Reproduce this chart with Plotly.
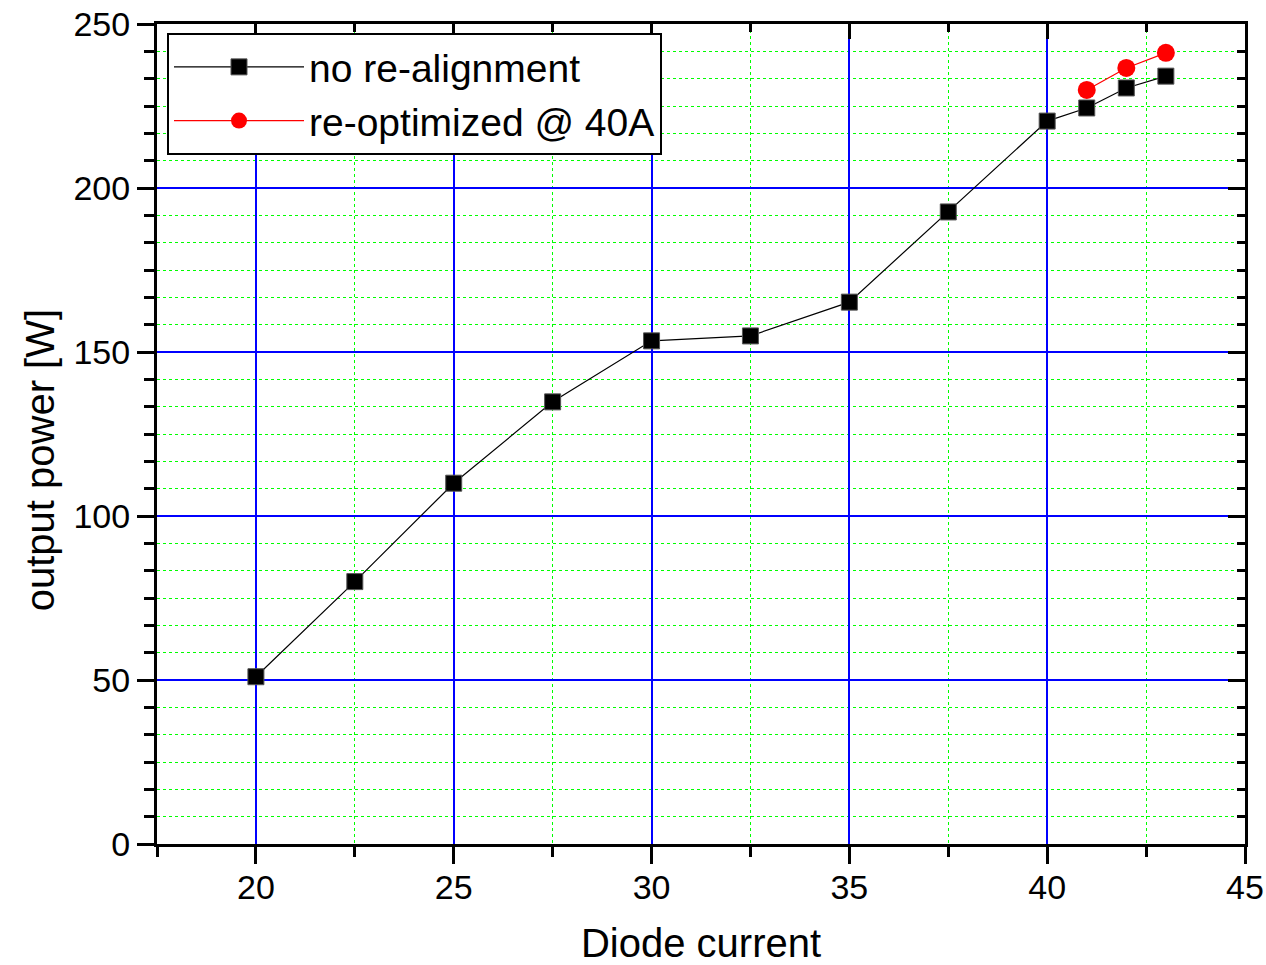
import plotly.graph_objects as go

current_a = [20, 22.5, 25, 27.5, 30, 32.5, 35, 37.5, 40, 41, 42, 43]
power_a = [51, 80, 110, 134.8, 153.4, 154.9, 165.2, 192.7, 220.4, 224.4, 230.5, 234.1]
current_b = [41, 42, 43]
power_b = [229.9, 236.6, 241.2]
name_a = "no re-alignment"
name_b = "re-optimized @ 40A"
x_title = "Diode current"
y_title = "output power [W]"

FONT = "Liberation Sans"

fig = go.Figure()
fig.add_trace(go.Scatter(x=current_a, y=power_a, mode="lines+markers", name=name_a,
                         line=dict(color="black", width=1.2),
                         marker=dict(symbol="square", size=16, color="black",
                                     line=dict(color="#555555", width=1))))
fig.add_trace(go.Scatter(x=current_b, y=power_b, mode="lines+markers", name=name_b,
                         line=dict(color="red", width=1.2),
                         marker=dict(symbol="circle", size=18, color="red",
                                     line=dict(color="red", width=0))))
# invisible trace to attach top/right axes
fig.add_trace(go.Scatter(x=[20], y=[0], xaxis="x2", yaxis="y2", mode="markers",
                         marker=dict(opacity=0), showlegend=False, hoverinfo="skip"))

xr = [17.5, 45]
yr = [0, 250]
common_line = dict(showline=True, linecolor="black", linewidth=3, zeroline=False,
                   automargin=False)

fig.update_layout(
    width=1266, height=965,
    margin=dict(l=157, r=21, t=24, b=121),
    paper_bgcolor="white", plot_bgcolor="white",
    font=dict(family=FONT, color="black"),
    showlegend=True,
    legend=dict(x=0.0092, y=0.989, xanchor="left", yanchor="top",
                bordercolor="black", borderwidth=2, bgcolor="white",
                font=dict(size=39, family=FONT), itemwidth=130,
                tracegroupgap=0),
    xaxis=dict(range=xr, tickmode="array", tickvals=[20, 25, 30, 35, 40, 45],
               ticks="outside", ticklen=17, tickwidth=3, tickcolor="black",
               tickfont=dict(size=34), ticklabelstandoff=-6,
               showgrid=True, gridcolor="#0000ff", gridwidth=1.5,
               minor=dict(tick0=17.5, dtick=2.5, ticks="outside", ticklen=10, tickwidth=3,
                          tickcolor="black", showgrid=True, gridcolor="#00ff00",
                          gridwidth=1, griddash="dot"),
               title=dict(text=x_title, font=dict(size=40), standoff=26),
               **common_line),
    yaxis=dict(range=yr, tickmode="array", tickvals=[0, 50, 100, 150, 200, 250],
               ticks="outside", ticklen=17, tickwidth=3, tickcolor="black",
               tickfont=dict(size=34), showgrid=True, gridcolor="#0000ff", gridwidth=1.5,
               minor=dict(tick0=0, dtick=50/6, ticks="outside", ticklen=10, tickwidth=3,
                          tickcolor="black", showgrid=True, gridcolor="#00ff00",
                          gridwidth=1, griddash="dot"),
               **common_line),
    xaxis2=dict(range=xr, overlaying="x", side="top", tickmode="array",
                tickvals=[20, 25, 30, 35, 40, 45], showticklabels=False,
                ticks="inside", ticklen=15, tickwidth=3, tickcolor="black", showgrid=False,
                minor=dict(tick0=17.5, dtick=2.5, ticks="inside", ticklen=8, tickwidth=3,
                           tickcolor="black", showgrid=False),
                **common_line),
    yaxis2=dict(range=yr, overlaying="y", side="right", tickmode="array",
                tickvals=[0, 50, 100, 150, 200, 250], showticklabels=False,
                ticks="inside", ticklen=17, tickwidth=3, tickcolor="black", showgrid=False,
                minor=dict(tick0=0, dtick=50/6, ticks="inside", ticklen=8, tickwidth=3,
                           tickcolor="black", showgrid=False),
                **common_line),
)

fig.add_annotation(text=y_title, textangle=-90, xref="paper", yref="paper",
                   x=-0.1075, y=0.468, xanchor="center", yanchor="middle",
                   showarrow=False, font=dict(size=40, family=FONT, color="black"))

fig.write_html("out.html")
